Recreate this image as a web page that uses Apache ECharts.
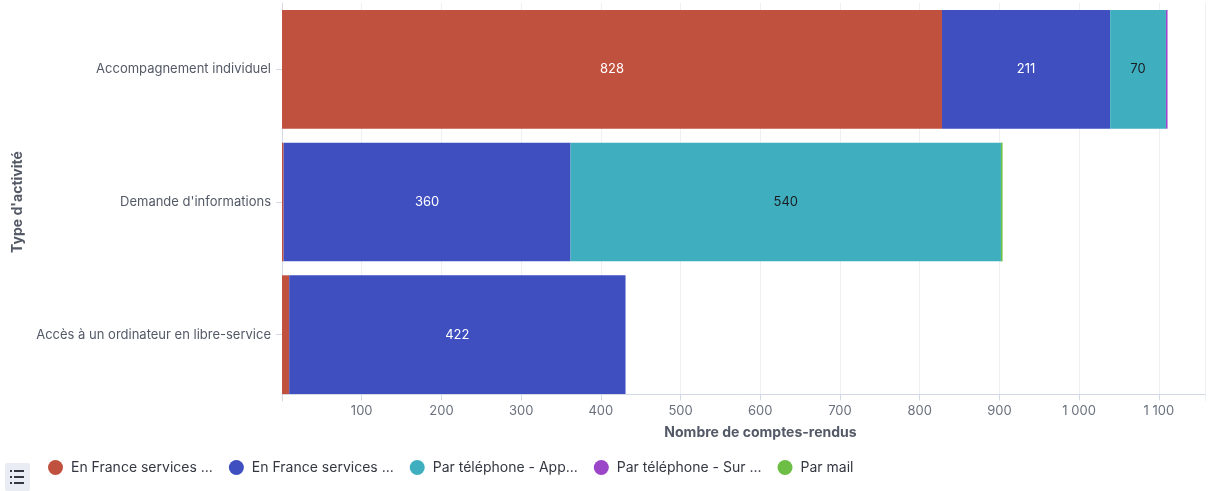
<!DOCTYPE html>
<html><head><meta charset="utf-8">
<script src="https://cdn.jsdelivr.net/npm/echarts@6/dist/echarts.min.js"></script>
<style>html,body{margin:0;padding:0;background:#fff}#c{width:1208px;height:491px}</style>
</head><body><div id="c"></div>
<script>
const categories = ["Accompagnement individuel", "Demande d'informations", "Accès à un ordinateur en libre-service"];
const seriesNames = ["En France services ...", "En France services ...", "Par téléphone - App...", "Par téléphone - Sur ...", "Par mail"];
const franceA = [828, 2, 9];
const franceB = [211, 360, 422];
const telApp = [70, 540, 0];
const telSur = [2, 0, 0];
const mail = [0, 2, 0];
const tickValues = [100, 200, 300, 400, 500, 600, 700, 800, 900, 1000, 1100];

const colors = ['#C0513F', '#3F4FC0', '#3FAFC0', '#9B45C9', '#6DBE45'];
const labelColors = ['#fff', '#fff', '#1a1c21', '#fff', '#fff'];
const dataSets = [franceA, franceB, telApp, telSur, mail];
const ids = ['a','b','c','d','e'];

const chart = echarts.init(document.getElementById('c'), null, {renderer: 'canvas'});
const font = 'Inter, Roboto, sans-serif';
chart.setOption({
  animation: false,
  color: colors,
  textStyle: {fontFamily: font},
  legend: {
    left: 43, top: 455, icon: 'circle', itemWidth: 15, itemHeight: 15, itemGap: 16,
    textStyle: {fontSize: 14, color: '#343741', fontFamily: font, width: 148, padding: [0, 0, 0, 3]},
    data: ids.map((id) => ({name: id})),
    formatter: (n) => seriesNames[ids.indexOf(n)]
  },
  grid: {left: 282, right: 3, top: 3, bottom: 90, containLabel: false},
  yAxis: {
    type: 'category', inverse: true, data: categories,
    name: "Type d'activité", nameLocation: 'middle', nameGap: 257, nameRotate: 90,
    nameTextStyle: {fontSize: 14, fontWeight: 'bold', color: '#535966', fontFamily: font},
    axisLine: {show: true, lineStyle: {color: '#d3dae6'}},
    axisTick: {show: true, alignWithLabel: true, length: 6, lineStyle: {color: '#d3dae6'}},
    axisLabel: {fontSize: 13, color: '#535966', margin: 11, fontFamily: font}
  },
  xAxis: {
    type: 'value', min: 0, max: 1158, interval: 100, offset: -7,
    name: 'Nombre de comptes-rendus', nameLocation: 'middle', nameGap: 32,
    nameTextStyle: {fontSize: 14, fontWeight: 'bold', color: '#535966', fontFamily: font, padding: [0, 0, 0, 34]},
    axisLine: {show: true, lineStyle: {color: '#d3dae6'}},
    axisTick: {show: true, length: 6, lineStyle: {color: '#d3dae6'}},
    splitLine: {show: true, lineStyle: {color: '#eef0f3'}},
    axisLabel: {
      fontSize: 13, color: '#69707d', margin: 11, fontFamily: font, showMaxLabel: false,
      formatter: (v) => tickValues.includes(v) ? (v >= 1000 ? String(v).replace(/(\d)(\d{3})$/, '$1 $2') : String(v)) : ''
    }
  },
  series: ids.map((id, i) => ({
    name: id, type: 'bar', stack: 'total', barCategoryGap: '10.5%',
    data: dataSets[i],
    itemStyle: {color: colors[i]},
    label: {
      show: true, position: 'inside', fontSize: 13, color: labelColors[i], fontFamily: font,
      formatter: (p) => p.value >= 20 ? String(p.value) : ''
    }
  })),
  graphic: [
    {type: 'rect', left: 5, top: 463, shape: {width: 25, height: 28, r: 2}, style: {fill: '#e9edf3'}},
    {type: 'group', left: 10, top: 470, children: [
      {type: 'rect', shape: {x: 0, y: 0, width: 2, height: 2}, style: {fill: '#343741'}},
      {type: 'rect', shape: {x: 4, y: 0, width: 10, height: 2}, style: {fill: '#343741'}},
      {type: 'rect', shape: {x: 0, y: 6, width: 2, height: 2}, style: {fill: '#343741'}},
      {type: 'rect', shape: {x: 4, y: 6, width: 10, height: 2}, style: {fill: '#343741'}},
      {type: 'rect', shape: {x: 0, y: 12, width: 2, height: 2}, style: {fill: '#343741'}},
      {type: 'rect', shape: {x: 4, y: 12, width: 10, height: 2}, style: {fill: '#343741'}}
    ]}
  ]
});
</script></body></html>
